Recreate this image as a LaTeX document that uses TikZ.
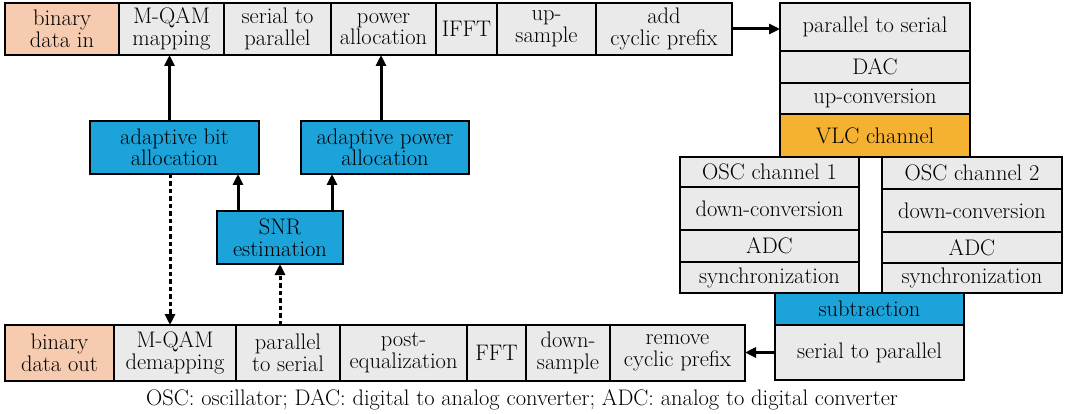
\documentclass[tikz,border=0pt]{standalone}
\usetikzlibrary{arrows.meta}
\definecolor{peach}{HTML}{F6CBAF}
\definecolor{lgray}{HTML}{EAEAEA}
\definecolor{bluebox}{HTML}{1CA3DA}
\definecolor{orangebox}{HTML}{F5B132}
% \blk{name}{x1}{y1}{x2}{y2}{fill}{text}: a box given by its corners (in px)
\newcommand\blk[7]{%
  \node[blkbox, fill=#6, minimum width={(#4-#2)*1pt}, minimum height={(#5-#3)*1pt}]
    (#1) at ({(#2+#4)/2},{(#3+#5)/2}) {#7};}
\begin{document}
\begin{tikzpicture}[x=1pt,y=-1pt,
  blkbox/.style={draw=black, line width=2.8pt, inner sep=0pt, outer sep=0pt,
    align=center, font=\fontsize{22.5}{21.5}\selectfont},
  arr/.style={line width=3pt, -{Triangle[length=11pt,width=10pt]}},
  darr/.style={arr, dash pattern=on 4.5pt off 3pt}]
\useasboundingbox (0,0) rectangle (1068,414);

% transmitter chain
\blk{bin}{5}{3}{119}{55}{peach}{binary\\data in}
\blk{mqam}{119}{3}{224}{55}{lgray}{M-QAM\\mapping}
\blk{sp}{224}{3}{331}{55}{lgray}{serial to\\parallel}
\blk{pa}{331}{3}{436}{55}{lgray}{power\\allocation}
\blk{ifft}{436}{3}{497}{55}{lgray}{IFFT}
\blk{ups}{497}{3}{596}{55}{lgray}{up-\\sample}
\blk{acp}{596}{3}{732}{55}{lgray}{add\\cyclic prefix}

% right column
\blk{ps}{780}{3}{970}{51}{lgray}{parallel to serial}
\blk{dac}{780}{51}{970}{83}{lgray}{DAC}
\blk{upc}{780}{83}{970}{114}{lgray}{up-conversion}
\blk{vlc}{780}{114}{970}{157}{orangebox}{VLC channel}

% two receiver branches
\blk{osca}{680}{157}{859}{187}{lgray}{OSC channel 1}
\blk{dca}{680}{187}{859}{230}{lgray}{down-conversion}
\blk{adca}{680}{230}{859}{262}{lgray}{ADC}
\blk{syna}{680}{262}{859}{293}{lgray}{synchronization}
\blk{oscb}{882}{157}{1062}{189}{lgray}{OSC channel 2}
\blk{dcb}{882}{189}{1062}{232}{lgray}{down-conversion}
\blk{adcb}{882}{232}{1062}{263}{lgray}{ADC}
\blk{synb}{882}{263}{1062}{293}{lgray}{synchronization}
\blk{sub}{775}{293}{964}{325}{bluebox}{subtraction}
\blk{s2p}{775}{325}{964}{380}{lgray}{serial to parallel}

% receiver chain
\blk{bout}{5}{325}{114}{381}{peach}{binary\\data out}
\blk{mqamd}{114}{325}{236}{381}{lgray}{M-QAM\\demapping}
\blk{p2s}{236}{325}{340}{381}{lgray}{parallel\\to serial}
\blk{peq}{340}{325}{467}{381}{lgray}{post-\\equalization}
\blk{fft}{467}{325}{526}{381}{lgray}{FFT}
\blk{dns}{526}{325}{610}{381}{lgray}{down-\\sample}
\blk{rcp}{610}{325}{745}{381}{lgray}{remove\\cyclic prefix}

% adaptive loading blocks
\blk{aba}{90}{121}{259}{174}{bluebox}{adaptive bit\\allocation}
\blk{apa}{301}{121}{469}{174}{bluebox}{adaptive power\\allocation}
\blk{snr}{217}{211}{343}{264}{bluebox}{SNR\\estimation}

% connectors
\draw[arr] (acp.east) -- (acp.east -| ps.west);
\draw[arr] (s2p.west) -- (s2p.west -| rcp.east);
\draw[arr] ([xshift=-5pt]aba.north) -- ([xshift=-5pt]aba.north |- mqam.south);
\draw[arr] ([xshift=-4pt]apa.north) -- ([xshift=-4pt]apa.north |- pa.south);
\draw[arr] ([xshift=-42pt]snr.north) -- ([xshift=-42pt]snr.north |- aba.south);
\draw[arr] ([xshift=52pt]snr.north) -- ([xshift=52pt]snr.north |- apa.south);
\draw[darr] ([xshift=-4.5pt]aba.south) -- ([xshift=-4.5pt]aba.south |- mqamd.north);
\draw[darr] (snr.south |- p2s.north) -- (snr.south);

% legend
\node[font=\fontsize{22.5}{24}\selectfont, inner sep=0pt] (legend) at (522,400)
  {OSC: oscillator; DAC: digital to analog converter; ADC: analog to digital converter};
\end{tikzpicture}
\end{document}
